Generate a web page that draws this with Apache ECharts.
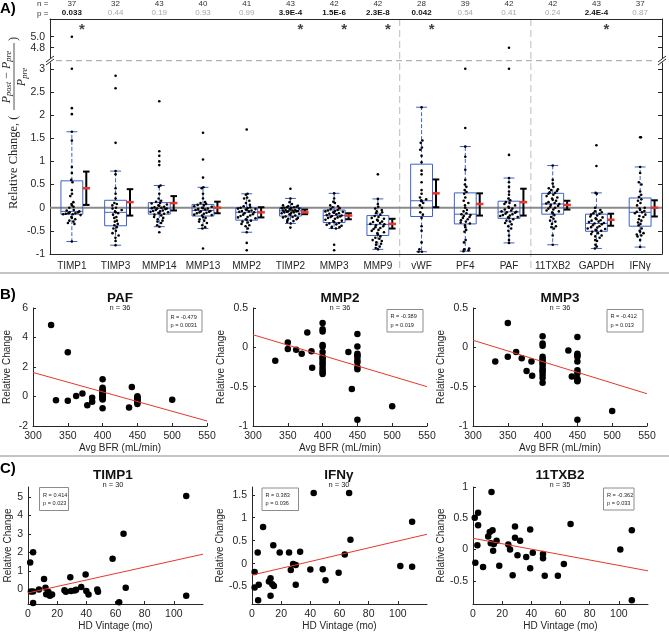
<!DOCTYPE html>
<html><head><meta charset="utf-8">
<script src="https://cdn.jsdelivr.net/npm/echarts@6/dist/echarts.min.js"></script>
<style>html,body{margin:0;padding:0;background:#fff}#c{width:669px;height:632px}</style>
</head><body><div id="c"></div>
<script>
// ---------------- Panel A data ----------------
const categories = ['TIMP1','TIMP3','MMP14','MMP13','MMP2','TIMP2','MMP3','MMP9','vWF','PF4','PAF','11TXB2','GAPDH','IFNγ'];
const nCounts = [37,32,43,40,41,43,42,42,28,39,42,42,43,37];
const pValues = ['0.033','0.44','0.19','0.93','0.99','3.9E-4','1.5E-6','2.3E-8','0.042','0.54','0.41','0.24','2.4E-4','0.87'];
const significant = [true,false,false,false,false,true,true,true,true,false,false,false,true,false];
const whiskerLow  = [-0.73,-0.81,-0.41,-0.45,-0.53,-0.34,-0.45,-0.90,-0.95,-0.94,-0.76,-0.80,-0.88,-0.85];
const quart1      = [-0.14,-0.39,-0.14,-0.18,-0.27,-0.18,-0.32,-0.60,-0.19,-0.35,-0.23,-0.14,-0.51,-0.40];
const medians     = [-0.08,-0.10,-0.02,-0.06,-0.10,-0.07,-0.17,-0.36, 0.15,-0.14,-0.09, 0.08,-0.34,-0.10];
const quart3      = [ 0.58, 0.16, 0.11, 0.07, 0.00, 0.00,-0.05,-0.17, 0.94, 0.32, 0.14, 0.31,-0.14, 0.21];
const whiskerHigh = [ 1.64, 0.79, 0.48, 0.44, 0.30, 0.20, 0.31, 0.19, 2.17, 1.32, 0.64, 0.91, 0.32, 0.88];
const meanVals    = [ 0.42, 0.12, 0.10, 0.00,-0.10,-0.10,-0.17,-0.35, 0.31, 0.08, 0.12, 0.06,-0.26, 0.00];
const errLow      = [ 0.06,-0.17,-0.06,-0.12,-0.21,-0.14,-0.25,-0.45, 0.01,-0.17,-0.17,-0.04,-0.39,-0.19];
const errHigh     = [ 0.78, 0.40, 0.25, 0.13, 0.01,-0.04,-0.12,-0.24, 0.61, 0.31, 0.41, 0.15,-0.13, 0.16];
const pointValues = [
 [5.0,3.0,2.15,2.02,1.64,1.45,0.88,0.75,0.6,0.55,0.38,0.3,0.25,0.12,0.08,0.05,0.02,0.0,-0.05,-0.06,-0.08,-0.1,-0.1,-0.12,-0.12,-0.13,-0.14,-0.14,-0.16,-0.2,-0.22,-0.25,-0.28,-0.3,-0.33,-0.35,-0.73],
 [2.85,2.58,1.4,0.79,0.72,0.42,0.3,0.2,0.1,0.08,0.05,0.0,-0.02,-0.05,-0.08,-0.1,-0.12,-0.15,-0.2,-0.22,-0.28,-0.3,-0.35,-0.38,-0.42,-0.45,-0.5,-0.55,-0.6,-0.65,-0.72,-0.81],
 [2.3,1.22,1.12,1.0,0.92,0.48,0.45,0.3,0.2,0.15,0.13,0.1,0.09,0.07,0.05,0.04,0.02,0.01,0.0,-0.01,-0.02,-0.02,-0.03,-0.05,-0.06,-0.07,-0.08,-0.09,-0.1,-0.11,-0.12,-0.13,-0.15,-0.17,-0.2,-0.22,-0.25,-0.28,-0.3,-0.33,-0.38,-0.41,-0.53],
 [1.62,1.04,0.65,0.44,0.42,0.3,0.2,0.12,0.1,0.08,0.06,0.05,0.03,0.02,0.0,-0.01,-0.02,-0.03,-0.04,-0.05,-0.07,-0.08,-0.09,-0.1,-0.11,-0.12,-0.13,-0.15,-0.16,-0.17,-0.2,-0.22,-0.25,-0.28,-0.3,-0.33,-0.38,-0.42,-0.45,-0.88],
 [1.69,0.3,0.28,0.22,0.2,0.15,0.1,0.06,0.03,0.01,0.0,-0.01,-0.02,-0.03,-0.04,-0.05,-0.06,-0.07,-0.08,-0.09,-0.1,-0.12,-0.14,-0.15,-0.17,-0.18,-0.2,-0.21,-0.23,-0.25,-0.26,-0.28,-0.3,-0.32,-0.35,-0.38,-0.4,-0.45,-0.53,-0.76,-0.92],
 [0.41,0.2,0.12,0.08,0.05,0.04,0.03,0.02,0.01,0.01,0.0,0.0,-0.01,-0.02,-0.03,-0.04,-0.05,-0.05,-0.06,-0.06,-0.07,-0.08,-0.08,-0.09,-0.1,-0.1,-0.11,-0.12,-0.13,-0.14,-0.15,-0.17,-0.19,-0.2,-0.21,-0.22,-0.24,-0.25,-0.27,-0.29,-0.31,-0.34,-0.43],
 [0.31,0.2,0.13,0.1,0.05,0.03,0.01,-0.01,-0.03,-0.05,-0.06,-0.07,-0.08,-0.09,-0.1,-0.11,-0.12,-0.13,-0.14,-0.16,-0.17,-0.18,-0.19,-0.2,-0.21,-0.22,-0.24,-0.26,-0.28,-0.29,-0.31,-0.33,-0.34,-0.36,-0.37,-0.39,-0.41,-0.42,-0.43,-0.45,-0.8,-0.92],
 [0.72,0.19,0.08,0.02,-0.02,-0.05,-0.08,-0.1,-0.12,-0.15,-0.18,-0.2,-0.22,-0.24,-0.26,-0.28,-0.3,-0.31,-0.33,-0.35,-0.36,-0.38,-0.4,-0.42,-0.44,-0.46,-0.48,-0.5,-0.53,-0.55,-0.58,-0.62,-0.65,-0.67,-0.7,-0.72,-0.75,-0.78,-0.8,-0.84,-0.87,-0.9],
 [2.17,1.45,1.4,1.3,1.25,1.12,0.98,0.8,0.72,0.55,0.38,0.3,0.22,0.18,0.16,0.14,0.1,0.05,0.0,-0.1,-0.15,-0.22,-0.4,-0.5,-0.75,-0.9,-0.95,-0.95],
 [3.0,1.72,1.32,1.1,0.82,0.6,0.5,0.45,0.38,0.34,0.3,0.22,0.15,0.1,0.05,0.0,-0.05,-0.08,-0.12,-0.14,-0.16,-0.18,-0.2,-0.22,-0.25,-0.27,-0.3,-0.32,-0.34,-0.38,-0.42,-0.48,-0.52,-0.7,-0.75,-0.88,-0.9,-0.92,-0.94],
 [4.8,3.0,1.14,0.64,0.55,0.45,0.35,0.28,0.2,0.16,0.12,0.1,0.08,0.05,0.02,0.0,-0.02,-0.04,-0.06,-0.08,-0.09,-0.1,-0.11,-0.13,-0.14,-0.16,-0.17,-0.18,-0.2,-0.21,-0.22,-0.25,-0.28,-0.3,-0.33,-0.36,-0.4,-0.45,-0.5,-0.6,-0.7,-0.76],
 [0.91,0.6,0.52,0.45,0.42,0.4,0.38,0.36,0.33,0.32,0.3,0.28,0.25,0.22,0.2,0.17,0.15,0.12,0.1,0.09,0.08,0.06,0.04,0.02,0.0,-0.02,-0.04,-0.06,-0.08,-0.1,-0.12,-0.16,-0.2,-0.24,-0.28,-0.3,-0.35,-0.4,-0.42,-0.45,-0.6,-0.8],
 [1.35,0.9,0.32,0.3,0.0,-0.05,-0.08,-0.1,-0.12,-0.13,-0.15,-0.17,-0.19,-0.21,-0.23,-0.25,-0.27,-0.28,-0.3,-0.31,-0.33,-0.34,-0.36,-0.38,-0.4,-0.42,-0.43,-0.45,-0.46,-0.48,-0.49,-0.5,-0.52,-0.55,-0.57,-0.6,-0.62,-0.65,-0.7,-0.72,-0.8,-0.84,-0.88],
 [1.52,1.52,0.88,0.75,0.55,0.5,0.35,0.28,0.23,0.18,0.15,0.1,0.05,0.0,-0.02,-0.05,-0.07,-0.09,-0.1,-0.12,-0.15,-0.18,-0.2,-0.25,-0.28,-0.32,-0.35,-0.38,-0.45,-0.5,-0.52,-0.55,-0.58,-0.6,-0.62,-0.7,-0.85]
];
const yTicksA = [-1,-0.5,0,0.5,1,1.5,2,2.5,3];
const yTicksAUpper = [4.8,5.0];

// ---------------- Panel B data ----------------
const bfrTicks = [300,350,400,450,500,550];
const pafBFR = [326,350,333,350,362,371,378,385,385,438,442,500,400,400,400,400,400,400,400,400,400,400,400,400,400,400,400,400,450,450,450,450,450,450,450,450];
const pafChange = [4.85,3.0,-0.25,-0.28,0.03,0.2,-0.6,-0.08,-0.35,-0.75,0.65,-0.22,1.17,0.6,0.5,0.42,0.35,0.3,0.22,0.15,0.1,0.05,0.0,-0.05,-0.1,-0.15,-0.2,-0.8,0.02,-0.05,-0.1,-0.18,-0.25,-0.3,-0.4,-0.5];
const mmp2BFR = [332,350,350,362,370,378,385,384,437,442,500,400,400,400,400,400,400,400,400,400,400,400,400,400,400,400,450,450,450,450,450,450,450,450,450,450];
const mmp2Change = [-0.17,0.06,-0.02,-0.03,-0.08,0.19,-0.26,-0.05,-0.06,-0.53,-0.75,0.31,0.23,0.2,0.03,0.01,-0.06,-0.12,-0.14,-0.17,-0.2,-0.22,-0.26,-0.29,-0.32,-0.34,0.17,0.01,-0.08,-0.1,-0.12,-0.16,-0.19,-0.25,-0.28,-0.92];
const mmp3BFR = [332,350,350,362,370,377,384,385,437,442,500,400,400,400,400,400,400,400,400,400,400,400,400,400,400,450,450,450,450,450,450,450,450,450,450,450];
const mmp3Change = [-0.18,0.31,-0.12,-0.06,-0.14,-0.3,-0.18,-0.36,-0.04,-0.37,-0.81,0.14,0.05,0.02,-0.12,-0.15,-0.17,-0.2,-0.22,-0.26,-0.29,-0.31,-0.35,-0.39,-0.45,0.13,-0.08,-0.1,-0.12,-0.18,-0.29,-0.33,-0.4,-0.42,-0.43,-0.92];
const fitBFR = [300,550];
const fitPAF = [1.63,-1.66];
const fitMMP2 = [0.16,-0.50];
const fitMMP3 = [0.09,-0.59];

// ---------------- Panel C data ----------------
const vintageTicks = [0,20,40,60,80,100];
const timp1Vintage = [1.5,3.5,2,3.5,3.5,7.5,11,12,12.5,14,15,16.5,25,26,29,29.5,32,33,36.5,39.5,40,41.5,47.5,48,58,62.5,65.5,67,108.5,108.5];
const timp1Change  = [1.45,2.0,-0.12,-0.12,-0.75,-0.02,0.55,0.08,-0.27,-0.15,-0.35,-0.28,-0.05,-0.13,0.65,-0.1,-0.07,-0.03,0.12,0.8,-0.1,-0.28,-0.02,-0.13,1.65,-0.7,3.0,0.08,5.05,-0.35];
const ifngVintage = [1.8,1.8,3.9,4.6,4.2,7.6,11.6,12.7,12.7,13.9,14.6,15,19,25.4,26.6,28.2,30,30,33,40,42.3,48.5,50.4,59.4,63.6,66.6,67.5,101.7,109.8,109.8];
const ifngChange  = [-0.18,-0.52,0.24,-0.46,-0.8,0.8,-0.39,-0.32,-0.7,-0.45,0.4,-0.49,0.24,0.24,-0.14,-0.01,-0.03,-0.46,0.26,-0.13,1.54,-0.12,-0.36,-0.2,0.2,1.54,0.52,-0.05,0.91,-0.07];
const txbVintage = [1.2,1.6,3.5,3.5,3,6.9,10.4,11.5,12.2,12.7,13.4,13.8,14.3,16.2,18,24.2,25.4,27.2,28.8,28.8,30.5,32.3,36.5,39.2,39.2,41,48,48,49.2,58.2,62.3,66.9,101,108.9,108.9];
const txbChange  = [0.51,-0.21,0.59,0.39,0.07,-0.28,0.21,0.28,0.1,0.92,0.31,-0.02,0.09,0.14,-0.26,0.08,0.0,-0.41,0.37,0.19,-0.09,0.14,-0.12,0.32,-0.3,-0.05,-0.07,-0.14,-0.42,-0.42,-0.23,0.41,0.0,0.31,-0.81];
const fitVintage = [0,120];
const fitTIMP1 = [-0.2,1.9];
const fitIFNg = [-0.25,0.64];
const fitTXB = [0.18,-0.34];

// ---------------- styles ----------------
const FF = '"Liberation Sans", Arial, Helvetica, sans-serif';
const AX = '#262626';
const BOX_BLUE = '#3f62c6';
const RED = '#e8372c';

const chart = echarts.init(document.getElementById('c'), null, {renderer:'canvas'});

const grids = [
  {left:50, top:19, width:612, height:39},
  {left:50, top:63, width:612, height:191},
  {left:33, top:308, width:174, height:118},
  {left:253, top:308, width:174, height:118},
  {left:473, top:308, width:174, height:118},
  {left:28, top:487, width:175, height:117},
  {left:252, top:487, width:175, height:117},
  {left:473, top:487, width:175, height:117}
];

const axLine = {show:true, onZero:false, lineStyle:{color:AX, width:1}};

function sxAxis(gi, min, max, ticks, name, gap){
  return {gridIndex:gi, type:'value', min:min, max:max, name:name, nameLocation:'middle', nameGap:gap,
    nameTextStyle:{fontFamily:FF, fontSize:10, color:AX},
    axisLine:axLine, splitLine:{show:false},
    axisTick:{inside:true, length:3, customValues:ticks, lineStyle:{color:AX}},
    axisLabel:{customValues:ticks, fontFamily:FF, fontSize:10.5, color:AX, margin:5}};
}
function syAxis(gi, min, max, ticks, gap){
  return {gridIndex:gi, type:'value', min:min, max:max, name:'Relative Change', nameLocation:'middle', nameGap:gap,
    nameRotate:90, nameTextStyle:{fontFamily:FF, fontSize:10, color:AX},
    axisLine:axLine, splitLine:{show:false},
    axisTick:{inside:true, length:3, customValues:ticks, lineStyle:{color:AX}},
    axisLabel:{customValues:ticks, fontFamily:FF, fontSize:10.5, color:AX, margin:5}};
}

const xAxes = [
  {gridIndex:0, type:'category', data:categories, position:'top', axisLine:axLine,
   axisTick:{inside:true, alignWithLabel:true, interval:0, length:5, lineStyle:{color:AX}}, axisLabel:{show:false}},
  {gridIndex:0, type:'category', data:categories, position:'top', axisLine:{show:false}, axisTick:{show:false},
   axisLabel:{interval:0, margin:11, fontFamily:FF, fontSize:8, color:'#333', formatter:(v,i)=>String(nCounts[i])}},
  {gridIndex:0, type:'category', data:categories, position:'top', axisLine:{show:false}, axisTick:{show:false},
   axisLabel:{interval:0, margin:2, fontFamily:FF, fontSize:8, formatter:(v,i)=> significant[i] ? '{b|'+pValues[i]+'}' : '{g|'+pValues[i]+'}',
     rich:{b:{fontWeight:'bold', color:'#111', fontSize:8, fontFamily:FF}, g:{color:'#a8a8a8', fontSize:8, fontFamily:FF}}}},
  {gridIndex:0, type:'value', min:-0.5, max:13.5, show:false},
  {gridIndex:1, type:'category', data:categories, position:'bottom', axisLine:axLine,
   axisTick:{inside:true, alignWithLabel:true, interval:0, length:4, lineStyle:{color:AX}},
   axisLabel:{interval:0, fontFamily:FF, fontSize:10, color:AX, margin:7}},
  {gridIndex:1, type:'value', min:-0.5, max:13.5, show:false},
  sxAxis(2, 300, 550, bfrTicks, 'Avg BFR (mL/min)', 16),
  sxAxis(3, 300, 550, bfrTicks, 'Avg BFR (mL/min)', 16),
  sxAxis(4, 300, 550, bfrTicks, 'Avg BFR (mL/min)', 16),
  sxAxis(5, 0, 120, vintageTicks, 'HD Vintage (mo)', 17),
  sxAxis(6, 0, 120, vintageTicks, 'HD Vintage (mo)', 17),
  sxAxis(7, 0, 120, vintageTicks, 'HD Vintage (mo)', 17)
];

const yAxes = [
  {gridIndex:0, type:'value', min:4.613, max:5.322, position:'left', axisLine:axLine, splitLine:{show:false},
   axisTick:{inside:true, length:4, customValues:yTicksAUpper, lineStyle:{color:AX}},
   axisLabel:{customValues:yTicksAUpper, formatter:v=>v.toFixed(1), fontFamily:FF, fontSize:10.5, color:AX, margin:5}},
  {gridIndex:0, type:'value', min:4.613, max:5.322, position:'right', axisLine:axLine, splitLine:{show:false},
   axisTick:{inside:true, length:4, customValues:yTicksAUpper, lineStyle:{color:AX}}, axisLabel:{show:false}},
  {gridIndex:1, type:'value', min:-1, max:3.125, position:'left', axisLine:axLine, splitLine:{show:false},
   axisTick:{inside:true, length:4, customValues:yTicksA, lineStyle:{color:AX}},
   axisLabel:{customValues:yTicksA, fontFamily:FF, fontSize:10.5, color:AX, margin:5}},
  {gridIndex:1, type:'value', min:-1, max:3.125, position:'right', axisLine:axLine, splitLine:{show:false},
   axisTick:{inside:true, length:4, customValues:yTicksA, lineStyle:{color:AX}}, axisLabel:{show:false}},
  syAxis(2, -2, 6, [-2,0,2,4,6], 21),
  syAxis(3, -1, 0.5, [-1,-0.5,0,0.5], 23),
  syAxis(4, -1, 0.5, [-1,-0.5,0,0.5], 23),
  syAxis(5, -0.8, 5.54, [0,1,2,3,4,5], 12),
  syAxis(6, -0.88, 1.67, [-0.5,0,0.5,1,1.5], 22),
  syAxis(7, -0.87, 1.0, [-0.5,0,0.5,1], 23)
];

// deterministic swarm-like spread of dots inside each category
const jitterPattern = [0,0.55,-0.55,0.25,-0.85,0.85,-0.25,0.7,-0.4,0.4,-0.7,0.1,-1,1,-0.1];
const lowerDots = [], upperDots = [];
pointValues.forEach((vals, ci) => {
  vals.forEach((v, k) => {
    const nb = vals.filter(u => Math.abs(u - v) < 0.06).length - 1;
    const amp = Math.min(0.2, 0.035 * nb);
    const pt = [ci + amp * jitterPattern[k % jitterPattern.length], v];
    if (v > 3.125) upperDots.push(pt); else lowerDots.push(pt);
  });
});

function renderBox(params, api){
  const i = api.value(0), wl = api.value(1), q1 = api.value(2), md = api.value(3), q3 = api.value(4), wh = api.value(5);
  const p = (dx, v) => api.coord([i + dx, v]);
  const tl = p(-0.25, q3), br = p(0.25, q1);
  const ls = {stroke:BOX_BLUE, lineWidth:1, fill:null};
  const dash = {stroke:BOX_BLUE, lineWidth:1, lineDash:[4,2], fill:null};
  const xm = p(0, 0)[0], xl = p(-0.125, 0)[0], xr = p(0.125, 0)[0];
  const yq3 = p(0,q3)[1], yq1 = p(0,q1)[1], ywh = p(0,wh)[1], ywl = p(0,wl)[1], ymd = p(0,md)[1];
  return {type:'group', children:[
    {type:'rect', shape:{x:tl[0], y:tl[1], width:br[0]-tl[0], height:br[1]-tl[1]}, style:ls},
    {type:'line', shape:{x1:tl[0], y1:ymd, x2:br[0], y2:ymd}, style:ls},
    {type:'line', shape:{x1:xm, y1:yq3, x2:xm, y2:ywh}, style:dash},
    {type:'line', shape:{x1:xm, y1:yq1, x2:xm, y2:ywl}, style:dash},
    {type:'line', shape:{x1:xl, y1:ywh, x2:xr, y2:ywh}, style:ls},
    {type:'line', shape:{x1:xl, y1:ywl, x2:xr, y2:ywl}, style:ls}
  ]};
}
function renderErr(params, api){
  const i = api.value(0) + 0.33, m = api.value(1), lo = api.value(2), hi = api.value(3);
  const x = api.coord([i, 0])[0], xl = api.coord([i-0.075, 0])[0], xr = api.coord([i+0.075, 0])[0];
  const xrl = api.coord([i-0.085, 0])[0], xrr = api.coord([i+0.085, 0])[0];
  const yl = api.coord([i, lo])[1], yh = api.coord([i, hi])[1], ym = api.coord([i, m])[1];
  const bs = {stroke:'#000', lineWidth:2};
  return {type:'group', children:[
    {type:'line', shape:{x1:x, y1:yl, x2:x, y2:yh}, style:bs},
    {type:'line', shape:{x1:xl, y1:yl, x2:xr, y2:yl}, style:bs},
    {type:'line', shape:{x1:xl, y1:yh, x2:xr, y2:yh}, style:bs},
    {type:'line', shape:{x1:xrl, y1:ym, x2:xrr, y2:ym}, style:{stroke:RED, lineWidth:2.5}}
  ]};
}

const zip = (a, b) => a.map((v, i) => [v, b[i]]);
function scat(xi, data){ return {type:'scatter', xAxisIndex:xi, yAxisIndex:xi-2, data:data, symbolSize:6.5, itemStyle:{color:'#000', opacity:1}, z:3, silent:true}; }
function fit(xi, xs, ys){ return {type:'line', xAxisIndex:xi, yAxisIndex:xi-2, data:zip(xs, ys), symbol:'none', lineStyle:{color:RED, width:1}, z:4, silent:true}; }

const series = [
  {type:'line', xAxisIndex:5, yAxisIndex:2, data:[[-0.5,0],[13.5,0]], symbol:'none', lineStyle:{color:'#8a8a8a', width:2}, z:1, silent:true},
  {type:'custom', xAxisIndex:5, yAxisIndex:2, renderItem:renderBox, z:2, silent:true,
   data:categories.map((c,i)=>[i, whiskerLow[i], quart1[i], medians[i], quart3[i], whiskerHigh[i]])},
  {type:'scatter', xAxisIndex:5, yAxisIndex:2, data:lowerDots, symbolSize:2.6, itemStyle:{color:'#000', opacity:1}, z:3, silent:true},
  {type:'scatter', xAxisIndex:3, yAxisIndex:0, data:upperDots, symbolSize:2.6, itemStyle:{color:'#000', opacity:1}, z:3, silent:true},
  {type:'custom', xAxisIndex:5, yAxisIndex:2, renderItem:renderErr, z:4, silent:true,
   data:categories.map((c,i)=>[i, meanVals[i], errLow[i], errHigh[i]])},
  {type:'scatter', xAxisIndex:3, yAxisIndex:0, silent:true, symbolSize:1, itemStyle:{color:'rgba(0,0,0,0)'},
   data:categories.map((c,i)=>i).filter(i=>significant[i]).map(i=>[i+0.23, 5.12]),
   label:{show:true, position:'inside', formatter:'*', fontFamily:FF, fontSize:15, fontWeight:'bold', color:'#111'}},
  scat(6, zip(pafBFR, pafChange)), fit(6, fitBFR, fitPAF),
  scat(7, zip(mmp2BFR, mmp2Change)), fit(7, fitBFR, fitMMP2),
  scat(8, zip(mmp3BFR, mmp3Change)), fit(8, fitBFR, fitMMP3),
  scat(9, zip(timp1Vintage, timp1Change)), fit(9, fitVintage, fitTIMP1),
  scat(10, zip(ifngVintage, ifngChange)), fit(10, fitVintage, fitIFNg),
  scat(11, zip(txbVintage, txbChange)), fit(11, fitVintage, fitTXB)
];

chart.setOption({backgroundColor:'#fff', animation:false, grid:grids, xAxis:xAxes, yAxis:yAxes, series:series});

// ---------------- annotations ----------------
function txt(x, y, s, size, opts){
  return Object.assign({type:'text', x:x, y:y, silent:true, style:Object.assign({text:s, fontFamily:FF, fontSize:size, fill:AX, textAlign:'left', textVerticalAlign:'middle', verticalAlign:'middle'}, opts||{})});
}
function legendBox(x, y, w, h, r, p){
  return [
    {type:'rect', silent:true, shape:{x:x, y:y, width:w, height:h}, style:{fill:'#fff', stroke:'#8c8c8c', lineWidth:1}},
    txt(x+3.5, y+h/2-4, 'R = '+r, 5.6, {}),
    txt(x+3.5, y+h/2+4.5, 'p = '+p, 5.6, {})
  ];
}
function titleBlock(cx, y, t, n){
  return [
    txt(cx, y, t, 13.5, {textAlign:'center', fontWeight:'bold', fill:'#111'}),
    txt(cx, y+9.5, 'n = '+n, 7.5, {textAlign:'center'})
  ];
}
const sepX = [7.5, 10.5].map(v => chart.convertToPixel({xAxisIndex:5}, v));
const serif = '"Liberation Serif", "DejaVu Serif", serif';
const graphics = [
  txt(0, 9, 'A)', 15, {fontWeight:'bold', fill:'#000'}),
  txt(0, 295, 'B)', 15, {fontWeight:'bold', fill:'#000'}),
  txt(0, 469, 'C)', 15, {fontWeight:'bold', fill:'#000'}),
  txt(37, 4, 'n =', 8, {fill:'#333'}),
  txt(37, 13.5, 'p =', 8, {fill:'#333'}),
  {type:'line', silent:true, shape:{x1:0, y1:273, x2:669, y2:273}, style:{stroke:'#c4c4c4', lineWidth:2}},
  {type:'line', silent:true, shape:{x1:0, y1:456, x2:669, y2:456}, style:{stroke:'#c4c4c4', lineWidth:2}},
  {type:'line', silent:true, shape:{x1:56, y1:60.7, x2:656, y2:60.7}, style:{stroke:'#a0a0a0', lineWidth:1, lineDash:[6,4]}},
  {type:'line', silent:true, shape:{x1:46, y1:62, x2:54, y2:56}, style:{stroke:AX, lineWidth:1}},
  {type:'line', silent:true, shape:{x1:46, y1:65, x2:54, y2:59}, style:{stroke:AX, lineWidth:1}},
  {type:'line', silent:true, shape:{x1:658, y1:62, x2:666, y2:56}, style:{stroke:AX, lineWidth:1}},
  {type:'line', silent:true, shape:{x1:658, y1:65, x2:666, y2:59}, style:{stroke:AX, lineWidth:1}},
  ...sepX.map(x => ({type:'line', silent:true, shape:{x1:x, y1:19, x2:x, y2:271}, style:{stroke:'#bdbdbd', lineWidth:1, lineDash:[7,4]}})),
  {type:'group', x:14, y:209, rotation:Math.PI/2, silent:true, children:[
    {type:'text', x:0, y:0, style:{text:'Relative Change, (', fontFamily:serif, fontSize:12.5, fill:AX, textAlign:'left', verticalAlign:'middle'}},
    {type:'line', shape:{x1:99, y1:0, x2:166, y2:0}, style:{stroke:AX, lineWidth:0.8}},
    {type:'text', x:132, y:-7.5, style:{text:'{i|P}{s|post}{o| − }{i|P}{s|pre}', textAlign:'center', verticalAlign:'middle',
      rich:{i:{fontFamily:serif, fontStyle:'italic', fontSize:12, fill:AX}, s:{fontFamily:serif, fontStyle:'italic', fontSize:8.5, fill:AX, padding:[5,0,0,0]}, o:{fontFamily:serif, fontSize:12, fill:AX}}}},
    {type:'text', x:132, y:8, style:{text:'{i|P}{s|pre}', textAlign:'center', verticalAlign:'middle',
      rich:{i:{fontFamily:serif, fontStyle:'italic', fontSize:12, fill:AX}, s:{fontFamily:serif, fontStyle:'italic', fontSize:8.5, fill:AX, padding:[5,0,0,0]}}}},
    {type:'text', x:168, y:0, style:{text:')', fontFamily:serif, fontSize:12.5, fill:AX, textAlign:'left', verticalAlign:'middle'}}
  ]},
  ...titleBlock(120, 298, 'PAF', 36),
  ...titleBlock(340, 298, 'MMP2', 36),
  ...titleBlock(560, 298, 'MMP3', 36),
  ...titleBlock(113, 475, 'TIMP1', 30),
  ...titleBlock(339, 475, 'IFNγ', 30),
  ...titleBlock(560, 475, '11TXB2', 35),
  ...legendBox(167, 310, 35, 22, '-0.479', '0.0031'),
  ...legendBox(387, 309.5, 36, 22.5, '-0.389', '0.019'),
  ...legendBox(607, 309.5, 36, 22.5, '-0.412', '0.013'),
  ...legendBox(39.5, 487.5, 29, 23, '0.414', '0.023'),
  ...legendBox(262, 488, 36.5, 22.5, '0.383', '0.036'),
  ...legendBox(603.5, 488, 30.5, 22, '-0.362', '0.033')
];
chart.setOption({graphic:graphics});
</script></body></html>
